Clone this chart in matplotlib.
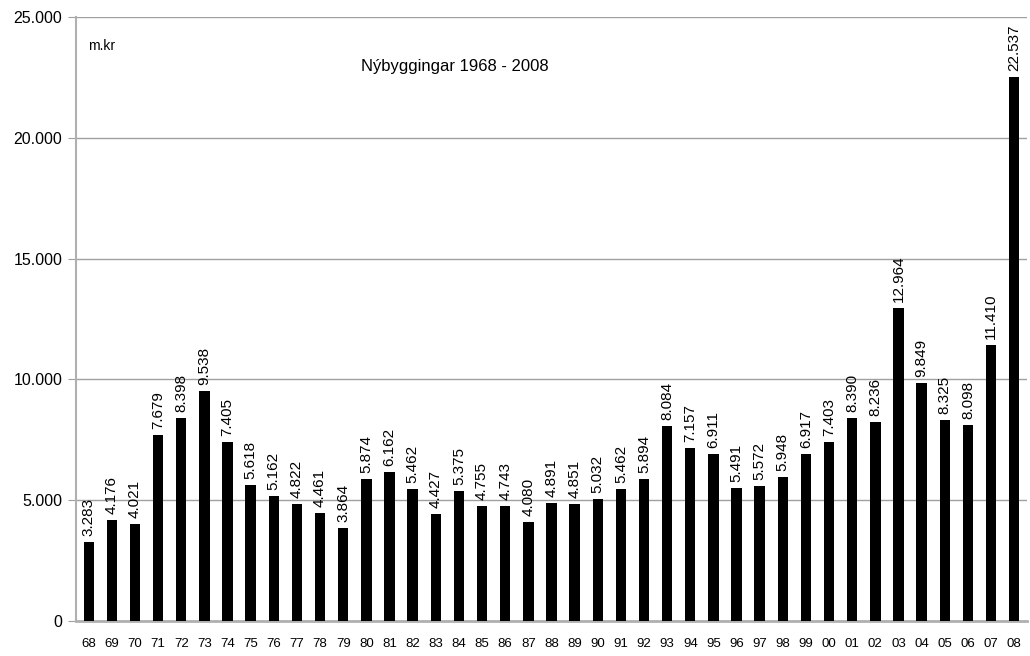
import matplotlib.pyplot as plt
from matplotlib.ticker import FuncFormatter

plt.rcParams['font.family'] = ['Liberation Sans', 'DejaVu Sans']

# ár og nýbyggingar í m.kr
years = ['68', '69', '70', '71', '72', '73', '74', '75', '76', '77', '78', '79',
         '80', '81', '82', '83', '84', '85', '86', '87', '88', '89', '90', '91',
         '92', '93', '94', '95', '96', '97', '98', '99', '00', '01', '02', '03',
         '04', '05', '06', '07', '08']
values = [3283, 4176, 4021, 7679, 8398, 9538, 7405, 5618, 5162, 4822, 4461, 3864,
          5874, 6162, 5462, 4427, 5375, 4755, 4743, 4080, 4891, 4851, 5032, 5462,
          5894, 8084, 7157, 6911, 5491, 5572, 5948, 6917, 7403, 8390, 8236, 12964,
          9849, 8325, 8098, 11410, 22537]

def thousands(v):
    return f'{int(v):,}'.replace(',', '.')

fig = plt.figure(figsize=(10.3, 6.56), dpi=100)
ax = fig.add_axes([0.0738, 0.0534, 0.9232, 0.9206])

x = range(len(years))
ax.bar(x, values, width=0.45, color='black', zorder=3)
for i, v in zip(x, values):
    ax.text(i, v + 250, thousands(v), rotation=90, ha='center', va='bottom',
            fontsize=11, clip_on=False)

ax.set_xlim(-0.55, len(years) - 0.45)
ax.set_ylim(0, 25000)
ax.set_yticks(range(0, 25001, 5000))
ax.yaxis.set_major_formatter(FuncFormatter(lambda v, p: thousands(v)))
ax.set_xticks(list(x))
ax.set_xticklabels(years, fontsize=9.5)
ax.tick_params(axis='x', length=0, pad=12)
ax.tick_params(axis='y', length=6, color='#a0a0a0', labelsize=11.5, pad=4)
ax.grid(axis='y', color='#a0a0a0', linewidth=1, zorder=0)

for s in ['top', 'right']:
    ax.spines[s].set_visible(False)
ax.spines['left'].set_color('#b0b0b0')
ax.spines['left'].set_linewidth(1.5)
ax.spines['bottom'].set_color('#b0b0b0')
ax.spines['bottom'].set_linewidth(2)

ax.text(0.013, 0.945, 'm.kr', transform=ax.transAxes, fontsize=10)
ax.text(0.3, 0.91, 'Nýbyggingar 1968 - 2008', transform=ax.transAxes, fontsize=12)

fig.savefig('out.png', dpi=100)
